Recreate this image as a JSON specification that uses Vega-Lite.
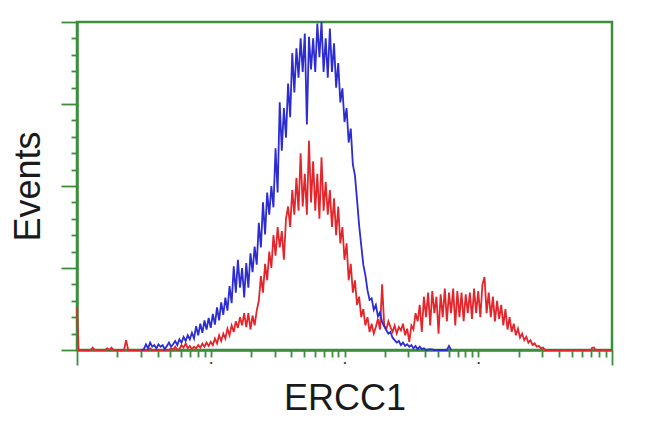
{
  "$schema": "https://vega.github.io/schema/vega-lite/v6.json",
  "width": 535,
  "height": 328,
  "autosize": {"type": "none"},
  "padding": {"left": 77, "top": 22, "right": 38, "bottom": 82},
  "background": "white",
  "config": {
    "view": {"stroke": "#3b8f3b", "strokeWidth": 2.5},
    "axis": {"grid": false, "domainColor": "#3b8f3b", "domainWidth": 2.5, "tickColor": "#3b8f3b", "tickWidth": 1.8, "titleFont": "Liberation Sans", "titleFontSize": 36, "titleFontWeight": "normal", "titleColor": "#1a1a1a", "labelFont": "Liberation Sans"}
  },
  "datasets": {
    "red": [
      {"ch":0,"n":52},{"ch":3,"n":0},{"ch":26,"n":0},{"ch":30,"n":3},{"ch":34,"n":0},{"ch":54,"n":0},{"ch":58,"n":2},{"ch":62,"n":0},{"ch":66,"n":3},{"ch":70,"n":0},{"ch":90,"n":0},{"ch":94,"n":12},{"ch":98,"n":0},{"ch":136,"n":0},{"ch":140,"n":2},{"ch":144,"n":0},{"ch":176,"n":0},{"ch":180,"n":2},{"ch":184,"n":0},{"ch":188,"n":4},{"ch":192,"n":0},{"ch":196,"n":1},{"ch":200,"n":6},{"ch":204,"n":3},{"ch":208,"n":8},{"ch":212,"n":2},{"ch":216,"n":5},{"ch":220,"n":1},{"ch":224,"n":4},{"ch":228,"n":2},{"ch":232,"n":6},{"ch":236,"n":3},{"ch":240,"n":8},{"ch":244,"n":4},{"ch":248,"n":9},{"ch":252,"n":5},{"ch":256,"n":10},{"ch":260,"n":6},{"ch":264,"n":14},{"ch":268,"n":8},{"ch":272,"n":18},{"ch":276,"n":11},{"ch":280,"n":20},{"ch":284,"n":14},{"ch":288,"n":26},{"ch":292,"n":18},{"ch":296,"n":30},{"ch":300,"n":22},{"ch":304,"n":35},{"ch":308,"n":27},{"ch":312,"n":40},{"ch":316,"n":30},{"ch":320,"n":45},{"ch":324,"n":28},{"ch":328,"n":45},{"ch":332,"n":25},{"ch":336,"n":42},{"ch":340,"n":30},{"ch":344,"n":48},{"ch":348,"n":60},{"ch":352,"n":90},{"ch":356,"n":70},{"ch":360,"n":105},{"ch":364,"n":85},{"ch":368,"n":120},{"ch":372,"n":100},{"ch":376,"n":140},{"ch":380,"n":115},{"ch":384,"n":150},{"ch":388,"n":125},{"ch":392,"n":145},{"ch":396,"n":110},{"ch":400,"n":160},{"ch":404,"n":175},{"ch":408,"n":150},{"ch":412,"n":195},{"ch":416,"n":165},{"ch":420,"n":210},{"ch":424,"n":170},{"ch":428,"n":240},{"ch":432,"n":175},{"ch":436,"n":215},{"ch":440,"n":165},{"ch":444,"n":255},{"ch":448,"n":180},{"ch":452,"n":230},{"ch":456,"n":170},{"ch":460,"n":215},{"ch":464,"n":160},{"ch":468,"n":235},{"ch":472,"n":170},{"ch":476,"n":205},{"ch":480,"n":165},{"ch":484,"n":195},{"ch":488,"n":150},{"ch":492,"n":185},{"ch":496,"n":140},{"ch":500,"n":175},{"ch":504,"n":130},{"ch":508,"n":150},{"ch":512,"n":110},{"ch":516,"n":130},{"ch":520,"n":85},{"ch":524,"n":105},{"ch":528,"n":70},{"ch":532,"n":85},{"ch":536,"n":55},{"ch":540,"n":65},{"ch":544,"n":40},{"ch":548,"n":50},{"ch":552,"n":30},{"ch":556,"n":40},{"ch":560,"n":22},{"ch":564,"n":32},{"ch":568,"n":20},{"ch":572,"n":28},{"ch":576,"n":38},{"ch":580,"n":25},{"ch":584,"n":80},{"ch":588,"n":30},{"ch":592,"n":25},{"ch":596,"n":35},{"ch":600,"n":28},{"ch":604,"n":22},{"ch":608,"n":30},{"ch":612,"n":20},{"ch":616,"n":28},{"ch":620,"n":24},{"ch":624,"n":32},{"ch":628,"n":18},{"ch":632,"n":26},{"ch":636,"n":10},{"ch":640,"n":30},{"ch":644,"n":25},{"ch":648,"n":45},{"ch":652,"n":35},{"ch":656,"n":55},{"ch":660,"n":22},{"ch":664,"n":65},{"ch":668,"n":40},{"ch":672,"n":70},{"ch":676,"n":30},{"ch":680,"n":72},{"ch":684,"n":45},{"ch":688,"n":65},{"ch":692,"n":20},{"ch":696,"n":68},{"ch":700,"n":40},{"ch":704,"n":75},{"ch":708,"n":35},{"ch":712,"n":70},{"ch":716,"n":45},{"ch":720,"n":75},{"ch":724,"n":30},{"ch":728,"n":72},{"ch":732,"n":40},{"ch":736,"n":70},{"ch":740,"n":35},{"ch":744,"n":68},{"ch":748,"n":45},{"ch":752,"n":70},{"ch":756,"n":38},{"ch":760,"n":75},{"ch":764,"n":45},{"ch":768,"n":72},{"ch":772,"n":40},{"ch":776,"n":80},{"ch":780,"n":89},{"ch":784,"n":45},{"ch":788,"n":70},{"ch":792,"n":40},{"ch":796,"n":65},{"ch":800,"n":35},{"ch":804,"n":60},{"ch":808,"n":38},{"ch":812,"n":55},{"ch":816,"n":30},{"ch":820,"n":50},{"ch":824,"n":25},{"ch":828,"n":40},{"ch":832,"n":22},{"ch":836,"n":32},{"ch":840,"n":18},{"ch":844,"n":26},{"ch":848,"n":15},{"ch":852,"n":20},{"ch":856,"n":12},{"ch":860,"n":16},{"ch":864,"n":9},{"ch":868,"n":12},{"ch":872,"n":6},{"ch":876,"n":8},{"ch":880,"n":4},{"ch":884,"n":5},{"ch":888,"n":2},{"ch":892,"n":3},{"ch":896,"n":0},{"ch":984,"n":0},{"ch":986,"n":3},{"ch":990,"n":3},{"ch":992,"n":0},{"ch":1024,"n":0}
    ],
    "blue": [
      {"ch":124,"n":0},{"ch":128,"n":1},{"ch":132,"n":7},{"ch":136,"n":2},{"ch":140,"n":9},{"ch":144,"n":4},{"ch":148,"n":6},{"ch":152,"n":2},{"ch":156,"n":7},{"ch":160,"n":4},{"ch":164,"n":6},{"ch":168,"n":1},{"ch":172,"n":5},{"ch":176,"n":9},{"ch":180,"n":4},{"ch":184,"n":7},{"ch":188,"n":11},{"ch":192,"n":6},{"ch":196,"n":13},{"ch":200,"n":9},{"ch":204,"n":16},{"ch":208,"n":11},{"ch":212,"n":18},{"ch":216,"n":13},{"ch":220,"n":21},{"ch":224,"n":14},{"ch":228,"n":29},{"ch":232,"n":18},{"ch":236,"n":32},{"ch":240,"n":21},{"ch":244,"n":36},{"ch":248,"n":25},{"ch":252,"n":39},{"ch":256,"n":27},{"ch":260,"n":44},{"ch":264,"n":31},{"ch":268,"n":52},{"ch":272,"n":36},{"ch":276,"n":58},{"ch":280,"n":43},{"ch":284,"n":64},{"ch":288,"n":48},{"ch":292,"n":78},{"ch":296,"n":57},{"ch":300,"n":102},{"ch":304,"n":70},{"ch":308,"n":110},{"ch":312,"n":76},{"ch":316,"n":100},{"ch":320,"n":64},{"ch":324,"n":106},{"ch":328,"n":76},{"ch":332,"n":118},{"ch":336,"n":95},{"ch":340,"n":126},{"ch":344,"n":104},{"ch":348,"n":155},{"ch":352,"n":125},{"ch":356,"n":180},{"ch":360,"n":141},{"ch":364,"n":192},{"ch":368,"n":165},{"ch":372,"n":200},{"ch":376,"n":174},{"ch":380,"n":246},{"ch":384,"n":192},{"ch":388,"n":302},{"ch":392,"n":243},{"ch":396,"n":295},{"ch":400,"n":259},{"ch":404,"n":325},{"ch":408,"n":284},{"ch":412,"n":362},{"ch":416,"n":314},{"ch":420,"n":368},{"ch":424,"n":332},{"ch":428,"n":380},{"ch":432,"n":339},{"ch":436,"n":386},{"ch":440,"n":275},{"ch":444,"n":382},{"ch":448,"n":342},{"ch":452,"n":380},{"ch":456,"n":339},{"ch":460,"n":398},{"ch":464,"n":357},{"ch":468,"n":400},{"ch":472,"n":339},{"ch":476,"n":380},{"ch":480,"n":332},{"ch":484,"n":392},{"ch":488,"n":339},{"ch":492,"n":374},{"ch":496,"n":320},{"ch":500,"n":350},{"ch":504,"n":302},{"ch":508,"n":319},{"ch":512,"n":278},{"ch":516,"n":295},{"ch":520,"n":253},{"ch":524,"n":270},{"ch":528,"n":226},{"ch":532,"n":213},{"ch":536,"n":183},{"ch":540,"n":152},{"ch":544,"n":128},{"ch":548,"n":104},{"ch":552,"n":91},{"ch":556,"n":73},{"ch":560,"n":61},{"ch":564,"n":63},{"ch":568,"n":49},{"ch":572,"n":55},{"ch":576,"n":41},{"ch":580,"n":46},{"ch":584,"n":34},{"ch":588,"n":29},{"ch":592,"n":24},{"ch":596,"n":20},{"ch":600,"n":22},{"ch":604,"n":15},{"ch":608,"n":12},{"ch":612,"n":9},{"ch":616,"n":11},{"ch":620,"n":6},{"ch":624,"n":9},{"ch":628,"n":5},{"ch":632,"n":7},{"ch":636,"n":4},{"ch":640,"n":6},{"ch":644,"n":2},{"ch":648,"n":5},{"ch":652,"n":1},{"ch":656,"n":4},{"ch":660,"n":1},{"ch":664,"n":2},{"ch":668,"n":0},{"ch":676,"n":1},{"ch":684,"n":0},{"ch":708,"n":0},{"ch":712,"n":5},{"ch":716,"n":0}
    ]
  },
  "encoding": {
    "x": {
      "field": "ch", "type": "quantitative",
      "scale": {"domain": [0, 1024], "nice": false, "zero": false},
      "axis": {
        "title": "ERCC1",
        "values": [0,77.06,122.14,154.12,178.94,199.21,216.35,231.2,244.29,256,333.06,378.14,410.12,434.94,455.21,472.35,487.2,500.29,512,589.06,634.14,666.12,690.94,711.21,728.35,743.2,756.29,768,845.06,890.14,922.12,946.94,967.21,984.35,999.2,1012.29,1024],
        "tickSize": {"condition": {"test": "datum.value === 0 || datum.value === 1024", "value": 15}, "value": 7},
        "labelExpr": "(datum.value === 256 || datum.value === 512 || datum.value === 768) ? '•' : ''",
        "labelFontSize": 8,
        "labelColor": "#333333",
        "labelPadding": 1,
        "labelOverlap": false,
        "labelFlush": false,
        "titlePadding": 7
      }
    },
    "y": {
      "field": "n", "type": "quantitative",
      "scale": {"domain": [0, 400], "nice": false},
      "axis": {
        "title": "Events",
        "values": [0,20,40,60,80,100,120,140,160,180,200,220,240,260,280,300,320,340,360,380,400],
        "labels": false,
        "tickSize": {"condition": {"test": "datum.value % 100 === 0", "value": 16}, "value": 6},
        "titlePadding": 13
      }
    }
  },
  "layer": [
    {"data": {"name": "red"}, "mark": {"type": "line", "color": "#e2262c", "strokeWidth": 1.8}},
    {"data": {"name": "blue"}, "mark": {"type": "line", "color": "#2c2cd0", "strokeWidth": 1.8}}
  ]
}
